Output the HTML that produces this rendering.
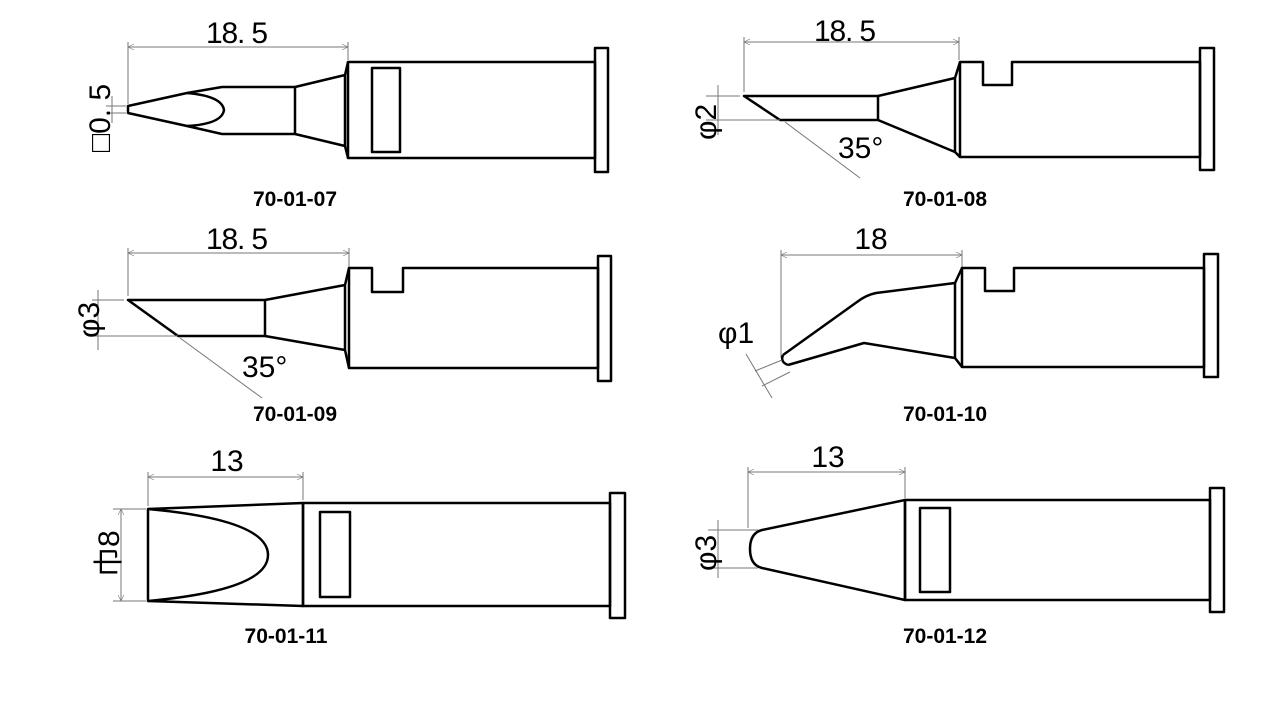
<!DOCTYPE html>
<html><head><meta charset="utf-8"><style>
html,body{margin:0;padding:0;background:#fff;}
svg{display:block}
.s{fill:none;stroke:#000;stroke-width:2.5;stroke-linejoin:round}
.d{fill:none;stroke:#777;stroke-width:1}
.t{font-family:"Liberation Sans","Noto Sans CJK JP",sans-serif;font-size:30px;fill:#000}
.l{font-family:"Liberation Sans",sans-serif;font-size:21px;font-weight:bold;fill:#000}
</style></head><body>
<svg width="1280" height="720" viewBox="0 0 1280 720">
<defs><marker id="a" viewBox="0 0 10 10" refX="10" refY="5" markerWidth="14" markerHeight="6" orient="auto-start-reverse" markerUnits="userSpaceOnUse"><path d="M0,0 L10,5 L0,10" fill="none" stroke="#777" stroke-width="1"/></marker></defs>

<!-- 70-01-07 -->
<line class="d" x1="128" y1="47" x2="348" y2="47" marker-start="url(#a)" marker-end="url(#a)"/>
<line class="d" x1="128" y1="42" x2="128" y2="104"/><line class="d" x1="348" y1="42" x2="348" y2="60"/>
<text class="t" x="237" y="43" text-anchor="middle" textLength="62">18. 5</text>
<path class="s" d="M128,106 L187,93 L222,87 L295,87 L295,134 L222,134 L187,126 L128,113 Z"/>
<path class="s" d="M187,93 Q222,96 224,110 Q222,124 187,126"/>
<path class="s" d="M295,87 L345,75 L348,62 M295,134 L345,146 L348,158 M345,75 L345,146"/>
<rect class="s" x="348" y="62" width="247" height="96"/>
<rect class="s" x="372" y="68" width="28" height="84"/>
<rect class="s" x="595" y="48" width="13" height="124"/>
<line class="d" x1="106" y1="106" x2="126" y2="106"/><line class="d" x1="106" y1="113" x2="126" y2="113"/>
<line class="d" x1="112" y1="96" x2="112" y2="123"/>
<text class="t" transform="translate(110,152) rotate(-90)">□0. 5</text>
<text class="l" x="295" y="206" text-anchor="middle">70-01-07</text>

<!-- 70-01-08 -->
<line class="d" x1="744" y1="42" x2="959" y2="42" marker-start="url(#a)" marker-end="url(#a)"/>
<line class="d" x1="744" y1="37" x2="744" y2="92"/><line class="d" x1="959" y1="37" x2="959" y2="60"/>
<text class="t" x="845" y="41" text-anchor="middle" textLength="62">18. 5</text>
<path class="s" d="M744,96 L878,96 L878,120 L780,120 Z"/>
<path class="s" d="M878,96 L955,78 L960,62 M878,120 L955,152 L960,157 M955,78 L955,152"/>
<path class="s" d="M960,62 L983,62 L983,85 L1012,85 L1012,62 L1200,62 L1200,157 L960,157 Z"/>
<rect class="s" x="1200" y="48" width="14" height="122"/>
<line class="d" x1="785" y1="122" x2="860" y2="178"/>
<line class="d" x1="706" y1="96" x2="740" y2="96"/><line class="d" x1="706" y1="120" x2="780" y2="120"/>
<line class="d" x1="718" y1="85" x2="718" y2="135"/>
<text class="t" transform="translate(716,140) rotate(-90)">φ2</text>
<text class="t" x="838" y="158">35°</text>
<text class="l" x="945" y="206" text-anchor="middle">70-01-08</text>

<!-- 70-01-09 -->
<line class="d" x1="128" y1="253" x2="349" y2="253" marker-start="url(#a)" marker-end="url(#a)"/>
<line class="d" x1="128" y1="248" x2="128" y2="296"/><line class="d" x1="349" y1="248" x2="349" y2="268"/>
<text class="t" x="237" y="249" text-anchor="middle" textLength="62">18. 5</text>
<path class="s" d="M128,300 L265,300 L265,336 L178,336 Z"/>
<path class="s" d="M265,300 L345,285 L349,268 M265,336 L345,350 L349,368 M345,285 L345,350"/>
<path class="s" d="M349,268 L372,268 L372,292 L403,292 L403,268 L598,268 L598,368 L349,368 Z"/>
<rect class="s" x="598" y="256" width="13" height="125"/>
<line class="d" x1="180" y1="338" x2="262" y2="398"/>
<line class="d" x1="92" y1="300" x2="124" y2="300"/><line class="d" x1="92" y1="336" x2="178" y2="336"/>
<line class="d" x1="98" y1="290" x2="98" y2="350"/>
<text class="t" transform="translate(99,338) rotate(-90)">φ3</text>
<text class="t" x="242" y="377">35°</text>
<text class="l" x="295" y="421" text-anchor="middle">70-01-09</text>

<!-- 70-01-10 -->
<line class="d" x1="781" y1="255" x2="962" y2="255" marker-start="url(#a)" marker-end="url(#a)"/>
<line class="d" x1="781" y1="250" x2="781" y2="358"/><line class="d" x1="962" y1="250" x2="962" y2="268"/>
<text class="t" x="871" y="249" text-anchor="middle">18</text>
<path class="s" d="M783,355 L857,302 Q866,295 876,293 L955,283 M788,365 L864,343 L955,358 M783,355 Q780,362 788,365"/>
<path class="s" d="M955,283 L962,268 M955,358 L962,367 M955,283 L955,358"/>
<path class="s" d="M962,268 L985,268 L985,291 L1014,291 L1014,268 L1204,268 L1204,367 L962,367 Z"/>
<rect class="s" x="1204" y="254" width="14" height="123"/>
<line class="d" x1="755" y1="371" x2="782" y2="360"/><line class="d" x1="762" y1="386" x2="790" y2="372"/>
<line class="d" x1="746" y1="354" x2="772" y2="398"/>
<text class="t" x="718" y="343">φ1</text>
<text class="l" x="945" y="421" text-anchor="middle">70-01-10</text>

<!-- 70-01-11 -->
<line class="d" x1="148" y1="477" x2="303" y2="477" marker-start="url(#a)" marker-end="url(#a)"/>
<line class="d" x1="148" y1="472" x2="148" y2="506"/><line class="d" x1="303" y1="472" x2="303" y2="500"/>
<text class="t" x="227" y="471" text-anchor="middle">13</text>
<path class="s" d="M148,509 L303,503 L303,606 L148,601 Z"/>
<path class="s" d="M148,509 Q268,520 268,555 Q268,590 148,601"/>
<rect class="s" x="303" y="503" width="307" height="103"/>
<rect class="s" x="320" y="512" width="30" height="85"/>
<rect class="s" x="610" y="493" width="15" height="125"/>
<line class="d" x1="113" y1="509" x2="146" y2="509"/><line class="d" x1="113" y1="601" x2="146" y2="601"/>
<line class="d" x1="121" y1="509" x2="121" y2="601" marker-start="url(#a)" marker-end="url(#a)"/>
<text class="t" transform="translate(119,577) rotate(-90)">巾8</text>
<text class="l" x="286" y="643" text-anchor="middle">70-01-11</text>

<!-- 70-01-12 -->
<line class="d" x1="748" y1="472" x2="905" y2="472" marker-start="url(#a)" marker-end="url(#a)"/>
<line class="d" x1="748" y1="467" x2="748" y2="528"/><line class="d" x1="905" y1="467" x2="905" y2="498"/>
<text class="t" x="828" y="467" text-anchor="middle">13</text>
<path class="s" d="M762,530 L905,500 L905,600 L762,568 Q750,565 750,549 Q750,533 762,530 Z"/>
<rect class="s" x="905" y="500" width="305" height="100"/>
<rect class="s" x="920" y="508" width="30" height="84"/>
<rect class="s" x="1210" y="488" width="14" height="124"/>
<line class="d" x1="708" y1="530" x2="758" y2="530"/><line class="d" x1="708" y1="568" x2="758" y2="568"/>
<line class="d" x1="718" y1="520" x2="718" y2="578"/>
<text class="t" transform="translate(716,571) rotate(-90)">φ3</text>
<text class="l" x="945" y="643" text-anchor="middle">70-01-12</text>
</svg>
</body></html>
